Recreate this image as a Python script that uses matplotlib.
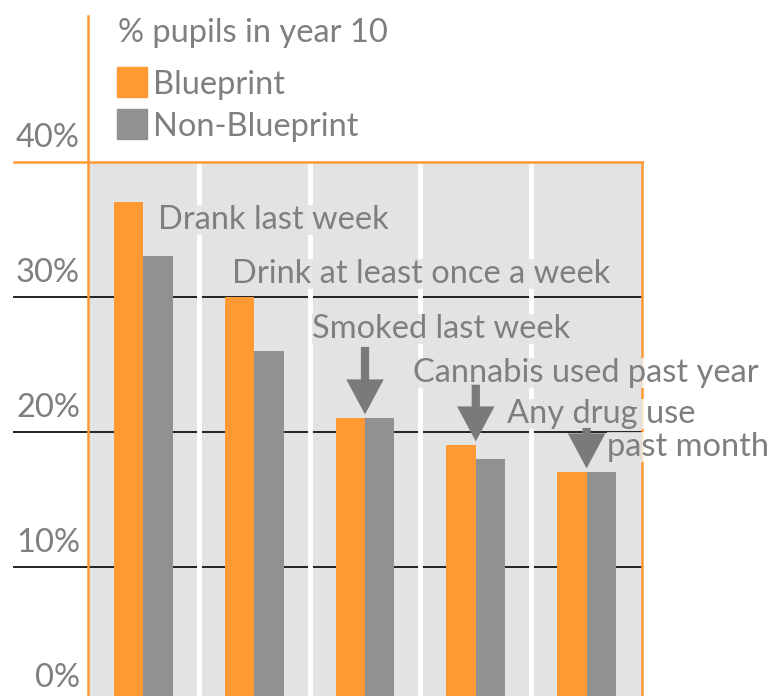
import matplotlib
matplotlib.use("Agg")
import matplotlib.pyplot as plt
from matplotlib.patches import Rectangle
from matplotlib.transforms import Bbox, TransformedBbox
import numpy as np

# ---- data ----
categories = ["Drank last week", "Drink at least once a week", "Smoked last week",
              "Cannabis used past year", "Any drug use\npast month"]
series_names = ["Blueprint", "Non-Blueprint"]
blueprint = [37, 30, 21, 19, 17]
non_blueprint = [33, 26, 21, 18, 17]
yticks = [0, 10, 20, 30, 40]
ytick_labels = ["0%", "10%", "20%", "30%", "40%"]
title = "% pupils in year 10"

ORANGE = "#FF9933"
GRAY = "#919191"
BG = "#E3E3E3"
TXT = "#7F7F7F"
ARROW = "#7A7A7A"
FONT = "Lato"
FS = 23.5

W, H = 768, 696
fig = plt.figure(figsize=(W / 100, H / 100), dpi=100)
ax = fig.add_axes([88 / W, 0, 554 / W, 534 / H])
ax.set_xlim(0, len(categories))
ax.set_ylim(0.44, 40)
ax.set_facecolor(BG)
for s in ax.spines.values():
    s.set_visible(False)
ax.set_xticks([])
ax.set_yticks([])

ext = -74 / 554
# gridlines
for t in yticks[1:-1]:
    ax.axhline(t, xmin=ext, xmax=1, color="#222222", lw=1.4, zorder=1, clip_on=False)
ax.axhline(yticks[-1], xmin=ext, xmax=1, color=ORANGE, lw=1.8, zorder=3, clip_on=False)

# separators
for i in range(1, len(categories)):
    ax.axvline(i, color="white", lw=3.5, zorder=1.5)

# spines
ax.plot([0, 0], [0, 1.273], transform=ax.transAxes, color=ORANGE, lw=1.8, clip_on=False, zorder=3)
ax.plot([1, 1], [0, 1], transform=ax.transAxes, color=ORANGE, lw=1.8, clip_on=False, zorder=3)

# bars
x = np.arange(len(categories)) + 0.5
bw = 0.265
ax.bar(x - bw / 2, blueprint, bw, color=ORANGE, zorder=2)
ax.bar(x + bw / 2, non_blueprint, bw, color=GRAY, zorder=2)

# tick labels
for t, lab in zip(yticks, ytick_labels):
    ax.text(-8 / 554, t + 1.1, lab, transform=ax.get_yaxis_transform(), ha="right",
            va="baseline", fontsize=FS, color=TXT, family=FONT, clip_on=False)


def label(xx, yy, s, floor=0.44):
    kw = dict(fontsize=FS, family=FONT, va="baseline")
    # white halo outside plot area (right of it)
    t1 = ax.text(xx, yy, s, color="none", zorder=4,
                 bbox=dict(boxstyle="square,pad=0", fc="white", ec="none", alpha=0.8), **kw)
    t1.set_clip_box(TransformedBbox(Bbox([[1.0, 0.0], [1.5, 1.5]]), ax.transAxes))
    t1.set_clip_on(True)
    # grey halo inside plot area
    t2 = ax.text(xx, yy, s, color="none", zorder=4.1,
                 bbox=dict(boxstyle="square,pad=0", fc=BG, ec="none", alpha=0.85), **kw)
    t2.set_clip_box(TransformedBbox(Bbox([[0, floor], [len(categories), 40]]), ax.transData))
    t2.set_clip_on(True)
    ax.text(xx, yy, s, color=TXT, zorder=5, clip_on=False, **kw)


# category labels
label(0.63, blueprint[0] - 2.0, categories[0])
label(1.30, blueprint[1] + 1.04, categories[1], floor=30.3)
label(2.02, blueprint[2] + 5.96, categories[2])
label(2.93, blueprint[3] + 4.7, categories[3])
l1, l2 = categories[4].split("\n")
label(3.78, blueprint[4] + 3.67, l1, floor=20.25)
label(4.68, blueprint[4] + 1.2, l2)

# arrows
arrow_tails = [5.0, 4.2, 3.0]
for i, dt in zip([2, 3, 4], arrow_tails):
    tip = blueprint[i] + 0.3
    ax.annotate("", xy=(i + 0.5, tip), xytext=(i + 0.5, tip + dt),
                arrowprops=dict(arrowstyle="simple,head_width=1.5,head_length=1.4,tail_width=0.33",
                                color=ARROW, lw=0, shrinkA=0, shrinkB=0,
                                mutation_scale=18),
                zorder=6, annotation_clip=False)

# title & legend
fig.text(118 / W, 1 - 42 / H, title, fontsize=FS, color=TXT, family=FONT, va="baseline")
colors = [ORANGE, GRAY]
sq_tops = [67, 109]
for name, c, top in zip(series_names, colors, sq_tops):
    fig.add_artist(Rectangle((117 / W, 1 - (top + 30) / H), 30 / W, 30 / H,
                             transform=fig.transFigure, color=c))
    fig.text(153 / W, 1 - (top + 27) / H, name, fontsize=FS, color=TXT, family=FONT,
             va="baseline")

fig.savefig("out.png", dpi=100)
